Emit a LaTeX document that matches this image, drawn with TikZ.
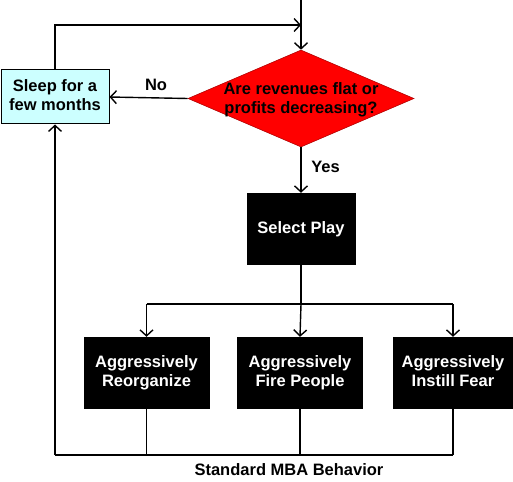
\documentclass[tikz,border=0pt]{standalone}
\usepackage{fontspec}
\setmainfont{Liberation Sans}
\usetikzlibrary{shapes.geometric,arrows.meta}
\definecolor{sleepfill}{HTML}{CCFFFF}
\definecolor{decred}{HTML}{FF0000}
\begin{document}
\begin{tikzpicture}[x=1pt,y=-1pt,
  font=\bfseries\fontsize{16.5}{19}\selectfont,
  line/.style={line width=1.4pt},
  thinline/.style={line width=1.1pt},
  arr/.style={line, -{Straight Barb[length=6pt,width=13pt,line width=1.4pt]}},
  blackbox/.style={rectangle, fill=black, text=white, minimum width=126pt,
    minimum height=72pt, align=center, inner sep=0pt},
  sleepbox/.style={rectangle, draw=black, line width=1pt, fill=sleepfill,
    minimum width=108pt, minimum height=54pt, align=center, inner sep=0pt},
  decision/.style={diamond, fill=decred, draw=decred!70!black, line width=0.6pt,
    minimum width=226pt, minimum height=97pt, inner sep=0pt},
  lbl/.style={inner sep=0pt, align=center}]
\useasboundingbox (0,0) rectangle (513,481);

% nodes
\node[decision] (dec) at (301,98.5) {};
\node[lbl] (dectext) at (301,100) {\strut Are revenues flat or\\profits decreasing?\strut};
\node[sleepbox] (sleep) at (55,97) {\strut Sleep for a\\few months\strut};
\node[blackbox, minimum width=109pt] (select) at (301,229) {Select Play};
\node[blackbox] (reorg) at (146.5,373) {\strut Aggressively\\Reorganize\strut};
\node[blackbox] (fire) at (300,373) {\strut Aggressively\\Fire People\strut};
\node[blackbox, minimum width=120pt] (fear) at (453,373) {\strut Aggressively\\Instill Fear\strut};

\node[lbl] (no) at (156,85) {No};
\node[lbl] (yes) at (325.5,167) {Yes};
\node[lbl] (mba) at (289,470) {Standard MBA Behavior};

% helper coordinates
\coordinate (start) at (301,0);
\coordinate (looptop) at (55,25);
\coordinate (loopend) at (301,25);
\coordinate (fork) at (301,304);
\coordinate (forkL) at (146.5,304);
\coordinate (forkR) at (453,304);
\coordinate (botL) at (55,455);
\coordinate (bot1) at (146.5,455);
\coordinate (bot2) at (300,455);
\coordinate (bot3) at (453,455);

% connectors
\draw[arr] (start) -- (dec.north);
\draw[arr] (sleep.north) -- (looptop) -- (loopend);
\draw[arr] (dec.west) -- (sleep.east);
\draw[arr] (dec.south) -- (select.north);
\draw[line] (select.south) -- (fork);
\draw[line] (forkL) -- (forkR);
\draw[arr] (forkL) -- (reorg.north);
\draw[arr] (fork) -- (fire.north);
\draw[arr] (forkR) -- (fear.north);
\draw[thinline] (reorg.south) -- (bot1);
\draw[thinline] (fire.south) -- (bot2);
\draw[thinline] (fear.south) -- (bot3);
\draw[line] (bot3) -- (botL);
\draw[arr] (botL) -- (sleep.south);
\end{tikzpicture}
\end{document}
